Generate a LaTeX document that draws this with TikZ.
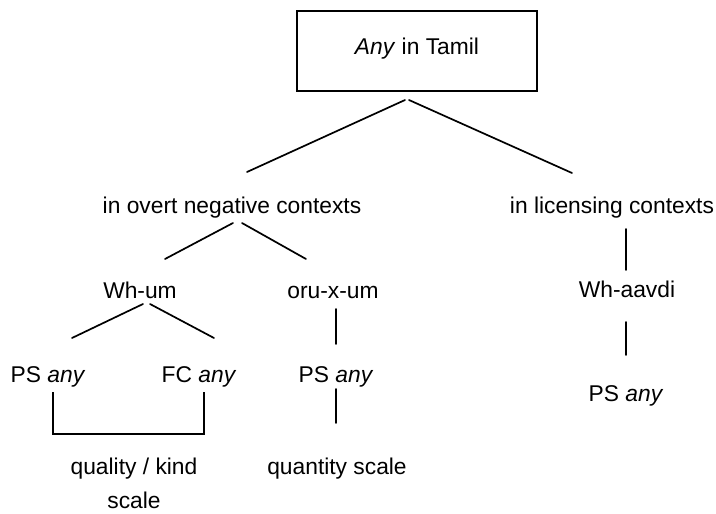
\documentclass[tikz,border=0pt]{standalone}
\usepackage{fontspec}
\setmainfont{Liberation Sans}
\begin{document}
\begin{tikzpicture}[x=1pt,y=-1pt,
  lbl/.style={anchor=base,inner sep=0pt,font=\fontsize{22.8}{39}\selectfont},
  conn/.style={line width=1.7pt,line cap=round}]
\useasboundingbox (0,0) rectangle (716,514);
% top box
\node[draw,line width=1.5pt,minimum width=240pt,minimum height=80pt,inner sep=0pt] (box) at (417,51) {};
\node[lbl] (top) at (417,54) {\textit{Any} in Tamil};
% level 1
\node[lbl] (neg) at (232,213) {in overt negative contexts};
\node[lbl] (lic) at (612,213) {in licensing contexts};
% level 2
\node[lbl] (whum) at (140,298) {Wh-um};
\node[lbl] (oru) at (333,298) {oru-x-um};
\node[lbl] (whaa) at (627,297) {Wh-aavdi};
% level 3
\node[lbl] (ps1) at (48,382) {PS \textit{any}};
\node[lbl] (fc) at (199,382) {FC \textit{any}};
\node[lbl] (ps2) at (336,382) {PS \textit{any}};
\node[lbl] (ps3) at (626,401) {PS \textit{any}};
% bottom
\node[lbl] (qual) at (134,474) {quality / kind};
\node[lbl] (qual2) at (134,508) {scale};
\node[lbl] (quant) at (337,474) {quantity scale};
% connector coordinates
\coordinate (a1) at (405,100); \coordinate (a2) at (409,100);
\coordinate (n1) at (247,172); \coordinate (l1) at (572,173);
\coordinate (b1) at (233,223); \coordinate (b2) at (242,223);
\coordinate (w1) at (165,259); \coordinate (o1) at (306,259);
\coordinate (c1) at (143,304); \coordinate (c2) at (150,304);
\coordinate (p1) at (72,338); \coordinate (f1) at (214,338);
\coordinate (ov1) at (336,309); \coordinate (ov2) at (336,344);
\coordinate (lv1) at (626,229); \coordinate (lv2) at (626,270);
\coordinate (wv1) at (626,322); \coordinate (wv2) at (626,355);
\coordinate (br1) at (53,392); \coordinate (br2) at (53,434);
\coordinate (br3) at (204,434); \coordinate (br4) at (204,392);
\coordinate (pv1) at (336,389); \coordinate (pv2) at (336,423);
\draw[conn] (a1) -- (n1);
\draw[conn] (a2) -- (l1);
\draw[conn] (b1) -- (w1);
\draw[conn] (b2) -- (o1);
\draw[conn] (c1) -- (p1);
\draw[conn] (c2) -- (f1);
\draw[conn] (ov1) -- (ov2);
\draw[conn] (lv1) -- (lv2);
\draw[conn] (wv1) -- (wv2);
\draw[conn,line cap=butt] (br1) -- (br2) -- (br3) -- (br4);
\draw[conn] (pv1) -- (pv2);
\end{tikzpicture}
\end{document}
